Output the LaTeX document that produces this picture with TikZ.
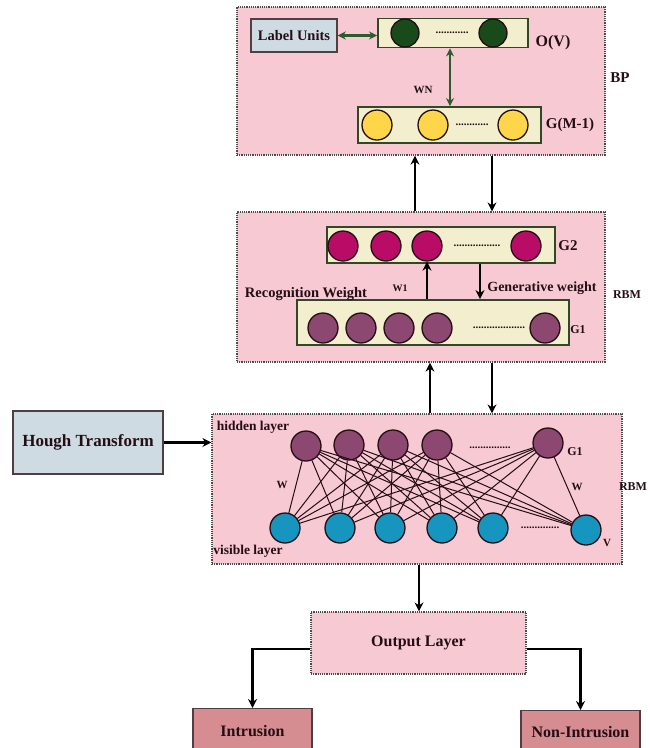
\documentclass[tikz,border=0pt]{standalone}
\usepackage{fontspec}
\setmainfont{Liberation Serif}
\usetikzlibrary{arrows.meta,positioning}
\definecolor{panelpink}{RGB}{247,201,211}
\definecolor{infobox}{RGB}{207,219,227}
\definecolor{cream}{RGB}{242,238,206}
\definecolor{layeredge}{RGB}{48,72,36}
\definecolor{ovgreen}{RGB}{24,74,26}
\definecolor{gyellow}{RGB}{255,214,74}
\definecolor{gmagenta}{RGB}{184,12,102}
\definecolor{gpurple}{RGB}{140,72,112}
\definecolor{vcyan}{RGB}{22,150,190}
\definecolor{resultpink}{RGB}{214,141,146}
\definecolor{inkdark}{RGB}{36,14,20}
\definecolor{linkgreen}{RGB}{44,92,44}
\tikzset{
  panel/.style={
    fill=panelpink,
    draw=gray!60!black,
    densely dotted,
    line width=1.2pt,
    minimum width={#1},
    inner sep=0pt,
  },
  info box/.style={
    fill=infobox,
    draw=inkdark!80,
    line width=1.4pt,
    minimum width={#1},
    inner sep=0pt,
  },
  layer box/.style={
    fill=cream,
    draw=layeredge,
    line width=1.8pt,
    minimum width={#1},
    inner sep=0pt,
  },
  result box/.style={
    fill=resultpink,
    draw=inkdark!80,
    line width=1.4pt,
    minimum width={#1},
    inner sep=0pt,
  },
  unit/.style={
    circle,
    fill=#1,
    draw=inkdark,
    line width=1.3pt,
    minimum size=30pt,
    inner sep=0pt,
  },
  tag/.style={
    font=\bfseries\fontsize{#1}{#1}\selectfont,
    text=inkdark,
    inner sep=0pt,
  },
  tag/.default=12,
  gap dots/.style={
    font=\bfseries\fontsize{11}{11}\selectfont,
    text=inkdark,
    inner sep=0pt,
  },
  flow/.style={
    -{Stealth[length=9pt,width=9pt]},
    line width=2.8pt,
  },
  link/.style={
    {Stealth[length=8pt,width=8pt]}-{Stealth[length=8pt,width=8pt]},
    draw=linkgreen,
    line width=2.6pt,
  },
  wire/.style={
    draw=inkdark,
    line width=1pt,
  }
}

\begin{document}
\begin{tikzpicture}[x=1pt,y=-1pt]
        \useasboundingbox (0,0) rectangle (649,748);
        \clip (0,0) rectangle (649,748);

        \node [panel=368, minimum height=148] (bp) at (421,81) {};
        \node [panel=368, minimum height=150] (rbma) at (421,287) {};
        \node [panel=410, minimum height=150] (rbmb) at (417,489) {};
        \node [panel=215, minimum height=62, tag=16] (out) at (418.5,643) {Output Layer};

        \node [info box=86, minimum height=33, tag=14.5] (lu) at (294,35.5) {Label Units};
        \node [info box=150, minimum height=63, tag=17] (hough) at (88,442.5) {Hough Transform};

        \node [layer box=150, minimum height=29] (ov) at (453,33) {};
        \node [layer box=183, minimum height=36] (gm) at (449.5,125) {};
        \node [layer box=228, minimum height=36] (gtwo) at (441,245) {};
        \node [layer box=272, minimum height=45] (gone) at (433,322.5) {};

        \node [unit=ovgreen, minimum size=28pt] (o1) at (405,33) {};
        \node [gap dots] (od) at (452,33) {............};
        \node [unit=ovgreen, minimum size=28pt] (o2) at (493,33) {};

        \node [unit=gyellow] (y1) at (377,125) {};
        \node [unit=gyellow] (y2) at (433,125) {};
        \node [gap dots] (yd) at (472,125) {............};
        \node [unit=gyellow] (y3) at (513,125) {};

        \node [unit=gmagenta] (m1) at (343,246) {};
        \node [unit=gmagenta] (m2) at (386,246) {};
        \node [unit=gmagenta] (m3) at (427,246) {};
        \node [gap dots] (md) at (477,246) {.................};
        \node [unit=gmagenta] (m4) at (526,246) {};

        \node [unit=gpurple] (p1) at (323,328) {};
        \node [unit=gpurple] (p2) at (361,328) {};
        \node [unit=gpurple] (p3) at (399,328) {};
        \node [unit=gpurple] (p4) at (437,328) {};
        \node [gap dots] (pd) at (499,328) {...................};
        \node [unit=gpurple] (p5) at (545,328) {};

        \node [unit=gpurple] (h1) at (306,446) {};
        \node [unit=gpurple] (h2) at (349,445) {};
        \node [unit=gpurple] (h3) at (393,445) {};
        \node [unit=gpurple] (h4) at (437,445) {};
        \node [gap dots] (hd) at (490,448) {...............};
        \node [unit=gpurple] (h5) at (548,443) {};

        \node [unit=vcyan] (v1) at (285,528) {};
        \node [unit=vcyan] (v2) at (340,528) {};
        \node [unit=vcyan] (v3) at (390,528) {};
        \node [unit=vcyan] (v4) at (442,528) {};
        \node [unit=vcyan] (v5) at (493,528) {};
        \node [gap dots] (vd) at (540,528) {..............};
        \node [unit=vcyan] (v6) at (586,530) {};

        \foreach \h in {1,...,5}
          \foreach \v in {1,...,6}
            \draw [wire] (h\h) -- (v\v);

        \node [result box=119, minimum height=44, anchor=north, tag=16] (intr) at (252.5,708) {Intrusion};
        \node [result box=119, minimum height=42, anchor=north, tag=16] (nonintr) at (580.5,710) {Non-Intrusion};

        \node [tag=16] (ovlabel) at (553,43) {O(V)};
        \node [tag=15] (gmlabel) at (570,125) {G(M-1)};
        \node [tag=15] (bplabel) at (620,78) {BP};
        \node [tag=11] (wnlabel) at (423,90) {WN};
        \node [tag=15] (g2label) at (568,246) {G2};
        \node [tag=12] (g1label) at (578,330) {G1};
        \node [tag=10] (w1label) at (400,288) {W1};
        \node [tag=14.5] (reclabel) at (306,294) {Recognition Weight};
        \node [tag=14] (genlabel) at (542,288) {Generative weight};
        \node [tag=12] (rbmalabel) at (627,295) {RBM};
        \node [tag=13.5] (hidlabel) at (253,427) {hidden layer};
        \node [tag=13.5] (vislabel) at (248,551) {visible layer};
        \node [tag=11] (wleft) at (282,485) {W};
        \node [tag=11] (wright) at (577,487) {W};
        \node [tag=12] (hg1label) at (575,452) {G1};
        \node [tag=11] (vlabel) at (607,543) {V};
        \node [tag=12] (rbmblabel) at (633,487) {RBM};

        \draw [link] (lu.east) -- (lu.east -| ov.west);
        \draw [link] ([xshift=-3pt]ov.south) -- ([xshift=-3pt]ov.south |- gm.north);

        \draw [flow] ([xshift=-6pt]rbma.north) -- ([xshift=-6pt]bp.south);
        \draw [flow] ([xshift=71pt]bp.south) -- ([xshift=71pt]bp.south |- rbma.north);
        \draw [flow] (m3.south |- gone.north) -- (m3.south);
        \draw [flow] ([xshift=39pt]gtwo.south) -- ([xshift=39pt]gtwo.south |- gone.north);
        \draw [flow] ([xshift=13pt]rbmb.north) -- ([xshift=13pt]rbmb.north |- rbma.south);
        \draw [flow] ([xshift=71pt]rbma.south) -- ([xshift=71pt]rbma.south |- rbmb.north);
        \draw [flow] (hough.east) -- (hough.east -| rbmb.west);
        \draw [flow] ([xshift=2pt]rbmb.south) -- ([xshift=2pt]rbmb.south |- out.north);
        \draw [flow] ([yshift=-6pt]out.west) -| (intr.north);
        \draw [flow] ([yshift=-6pt]out.east) -| (nonintr.north);
    \end{tikzpicture}
\end{document}
